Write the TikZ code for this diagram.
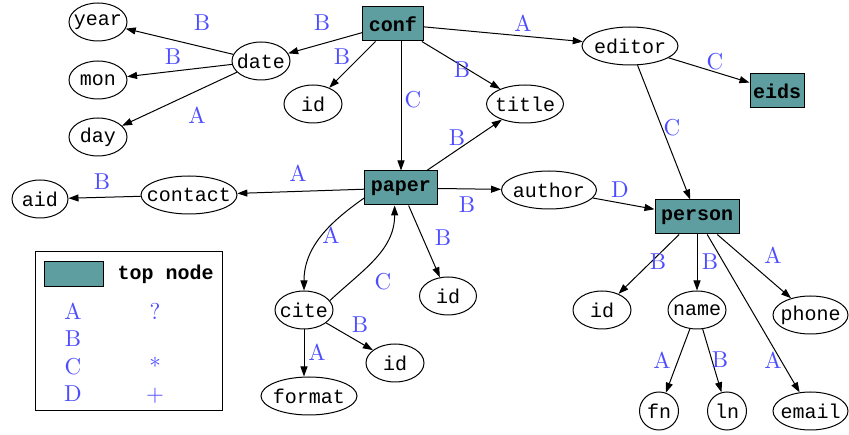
\documentclass[tikz,border=0pt]{standalone}
\usepackage{fontspec}
\setmonofont{Liberation Mono}
\newfontfamily\lblfont{lmroman10-regular}[Extension=.otf]
\usepackage{xcolor}
\usetikzlibrary{shapes.geometric, arrows.meta, positioning}

\definecolor{topteal}{RGB}{95,158,160}
\definecolor{lblblue}{RGB}{77,77,255}

\begin{document}
\begin{tikzpicture}[
    x=1pt, y=-1pt, line width=1pt,
    mono/.style={font=\fontsize{20}{20}\selectfont\ttfamily},
    ell/.style={draw, ellipse, inner sep=0pt, minimum width=58pt, minimum height=38pt, label={[mono]center:#1}},
    topbox/.style={draw, fill=topteal, inner xsep=6pt, inner ysep=0pt, minimum height=34pt, font=\fontsize{20}{20}\selectfont\ttfamily\bfseries},
    lbl/.style={text=lblblue, inner sep=0pt, font=\lblfont\fontsize{23}{23}\selectfont},
    arr/.style={-{Triangle[length=10pt, width=7pt]}},
]
\useasboundingbox (0,0) rectangle (849,435);

% Top nodes
\node[topbox] (conf) at (393,24) {conf};
\node[topbox] (paper) at (401,188) {paper};
\node[topbox] (person) at (697,217) {person};
\node[topbox, inner xsep=3pt] (eids) at (777,91) {eids};

% conf children
\node[ell=date] (date) at (261,61) {};
\node[ell=year] (year) at (98,22) {};
\node[ell=mon] (mon) at (98,80) {};
\node[ell=day] (day) at (98,137) {};
\node[ell=id] (confid) at (313,104) {};
\node[ell=editor, minimum width=96pt] (editor) at (630,46) {};
\node[ell=title, minimum width=77pt] (title) at (525,104) {};

% paper children
\node[ell=contact, minimum width=96pt] (contact) at (189,195) {};
\node[ell=aid, minimum width=56pt] (aid) at (40,199) {};
\node[ell=author, minimum width=95pt] (author) at (549,190) {};
\node[ell=id, minimum width=57pt] (paperid) at (448,296) {};
\node[ell=cite] (cite) at (304,310) {};
\node[ell=id] (citeid) at (395,363) {};
\node[ell=format, minimum width=96pt] (format) at (309,396) {};

% person children
\node[ell=id] (personid) at (602,310) {};
\node[ell=name] (name) at (697,310) {};
\node[ell=phone, minimum width=75pt] (phone) at (810.5,315) {};
\node[ell=fn, minimum width=39pt] (fn) at (659,411) {};
\node[ell=ln, minimum width=39pt] (ln) at (727,411) {};
\node[ell=email, minimum width=75pt] (email) at (810.5,411) {};

% Arrows from conf
\draw[arr] (conf) -- (date);
\draw[arr] (date) -- (year);
\draw[arr] (date) -- (mon);
\draw[arr] (date) -- (day);
\draw[arr] (conf) -- (confid);
\draw[arr] (conf.south -| paper.north) -- (paper.north);
\draw[arr] (conf) -- (editor);
\draw[arr] (conf) -- (title);
\draw[arr] (editor) -- (eids);
\draw[arr] (editor) -- (person);

% Arrows from paper
\draw[arr] (paper) -- (contact);
\draw[arr] (contact) -- (aid);
\draw[arr] (paper) -- (title);
\draw[arr] (paper) -- (author);
\draw[arr] (author) -- (person);
\draw[arr] (paper) -- (paperid);
\draw[arr] (paper.195) to[out=215, in=90] (cite.north);
\draw[arr] (cite.20) to[out=43, in=-90] (paper.-110);
\draw[arr] (cite) -- (citeid);
\draw[arr] (cite) -- (cite |- format.north);

% Arrows from person
\draw[arr] (person) -- (personid);
\draw[arr] (person) -- (name);
\draw[arr] (person) -- (phone);
\draw[arr] (person) -- (email);
\draw[arr] (name) -- (fn);
\draw[arr] (name) -- (ln);

% Edge labels
\node[lbl] (l-conf-date) at (322,23) {B};
\node[lbl] (l-date-year) at (202,23) {B};
\node[lbl] (l-date-mon) at (173,57) {B};
\node[lbl] (l-date-day) at (197,115) {A};
\node[lbl] (l-conf-id) at (342,57) {B};
\node[lbl] (l-conf-paper) at (413,100) {C};
\node[lbl] (l-conf-editor) at (523,23) {A};
\node[lbl] (l-conf-title) at (462,70) {B};
\node[lbl] (l-editor-eids) at (715,62) {C};
\node[lbl] (l-editor-person) at (672,128) {C};
\node[lbl] (l-paper-contact) at (298,173) {A};
\node[lbl] (l-contact-aid) at (102,182) {B};
\node[lbl] (l-paper-title) at (457,138) {B};
\node[lbl] (l-paper-author) at (467,205) {B};
\node[lbl] (l-author-person) at (620,190) {D};
\node[lbl] (l-paper-id) at (443,238) {B};
\node[lbl] (l-paper-cite) at (331,235) {A};
\node[lbl] (l-cite-paper) at (383,282) {C};
\node[lbl] (l-cite-id) at (360,325) {B};
\node[lbl] (l-cite-format) at (317,352) {A};
\node[lbl] (l-person-id) at (658,262) {B};
\node[lbl] (l-person-name) at (710,262) {B};
\node[lbl] (l-person-phone) at (773,255) {A};
\node[lbl] (l-person-email) at (773,360) {A};
\node[lbl] (l-name-fn) at (662,360) {A};
\node[lbl] (l-name-ln) at (720,360) {B};

% Legend
\node[draw, inner sep=0pt, minimum width=187pt, minimum height=159pt] (legend) at (128.5,331.5) {};
\node[draw, fill=topteal, inner sep=0pt, minimum width=59pt, minimum height=25pt] (swatch) at (74,274) {};
\node[mono, font=\fontsize{20}{20}\selectfont\ttfamily\bfseries, inner sep=0pt, anchor=west, right=13pt of swatch] (topnote) {top node};
\node[lbl, anchor=base] (leg-a) at (73,320) {A};
\node[lbl, anchor=base] (leg-b) at (73,347) {B};
\node[lbl, anchor=base] (leg-c) at (73,375) {C};
\node[lbl, anchor=base] (leg-d) at (73,402) {D};
\node[lbl, anchor=base] (leg-opt) at (155,320) {?};
\node[lbl, anchor=base] (leg-star) at (155,375) {*};
\node[lbl, anchor=base] (leg-plus) at (155,402) {+};

\end{tikzpicture}
\end{document}
